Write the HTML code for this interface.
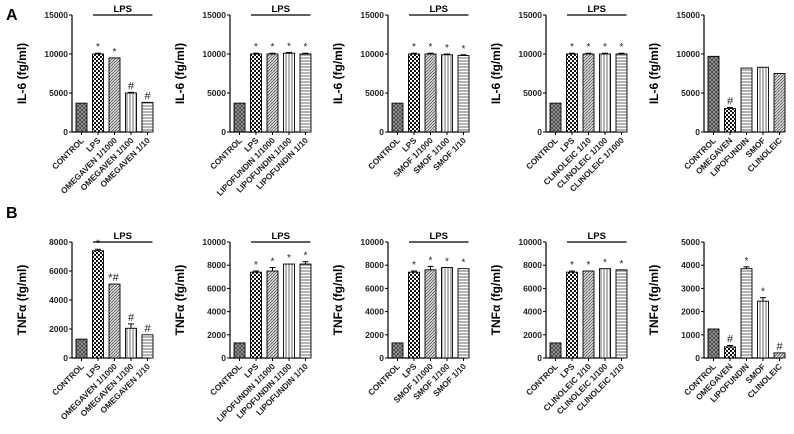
<!DOCTYPE html>
<html><head><meta charset="utf-8">
<style>
body{margin:0;background:#fff;}
svg{display:block;font-family:"Liberation Sans",Arial,sans-serif;}
</style></head>
<body>
<svg id="fig" width="794" height="434" viewBox="0 0 794 434" xmlns="http://www.w3.org/2000/svg">
<defs>
<pattern id="p-cross" width="4" height="4" patternUnits="userSpaceOnUse"><rect width="4" height="4" fill="#9a9a9a"/><path d="M0 0L4 4M4 0L0 4" stroke="#444" stroke-width="0.8"/></pattern>
<pattern id="p-checker" width="4" height="4" patternUnits="userSpaceOnUse"><rect width="4" height="4" fill="#fff"/><rect width="2" height="2" fill="#111"/><rect x="2" y="2" width="2" height="2" fill="#111"/></pattern>
<pattern id="p-diag" width="3" height="3" patternUnits="userSpaceOnUse"><rect width="3" height="3" fill="#ddd"/><path d="M0 3L3 0" stroke="#555" stroke-width="0.8"/></pattern>
<pattern id="p-vert" width="3" height="3" patternUnits="userSpaceOnUse"><rect width="3" height="3" fill="#fff"/><path d="M1 0V3" stroke="#444" stroke-width="0.8"/></pattern>
<pattern id="p-horiz" width="3" height="3" patternUnits="userSpaceOnUse"><rect width="3" height="3" fill="#fff"/><path d="M0 1H3" stroke="#444" stroke-width="0.8"/></pattern>
</defs>
<text x="6" y="20" font-size="16" font-weight="bold">A</text>
<text x="6" y="218" font-size="16" font-weight="bold">B</text>
</svg>
<script>
const catsA1 = ["CONTROL","LPS","OMEGAVEN 1/1000","OMEGAVEN 1/100","OMEGAVEN 1/10"];
const catsA2 = ["CONTROL","LPS","LIPOFUNDIN 1/1000","LIPOFUNDIN 1/100","LIPOFUNDIN 1/10"];
const catsA3 = ["CONTROL","LPS","SMOF 1/1000","SMOF 1/100","SMOF 1/10"];
const catsA4 = ["CONTROL","LPS","CLINOLEIC 1/10","CLINOLEIC 1/100","CLINOLEIC 1/1000"];
const catsA5 = ["CONTROL","OMEGAVEN","LIPOFUNDIN","SMOF","CLINOLEIC"];
const catsB4 = ["CONTROL","LPS","CLINOLEIC 1/10","CLINOLEIC 1/100","CLINOLEIC 1/10"];

const valsA1 = [3700,10000,9500,5000,3800];
const valsA2 = [3700,10000,10000,10100,10000];
const valsA3 = [3700,10000,10000,9900,9800];
const valsA4 = [3700,10000,10000,10000,10000];
const valsA5 = [9700,3000,8200,8300,7500];
const valsB1 = [1300,7400,5100,2050,1600];
const valsB2 = [1300,7400,7500,8100,8100];
const valsB3 = [1300,7400,7600,7800,7700];
const valsB4 = [1300,7400,7500,7700,7600];
const valsB5 = [1250,480,3850,2450,220];

const errA1 = [0,100,0,80,0];
const errA2 = [0,100,100,100,100];
const errA3 = [0,100,100,100,100];
const errA4 = [0,100,100,100,100];
const errA5 = [0,150,0,0,0];
const errB1 = [0,100,0,300,0];
const errB2 = [0,100,300,0,200];
const errB3 = [0,100,300,0,0];
const errB4 = [0,100,0,0,0];
const errB5 = [0,60,80,150,0];

const annA1 = ["","*","*","#","#"];
const annA2 = ["","*","*","*","*"];
const annA5 = ["","#","","",""];
const annB1 = ["","*","*#","#","#"];
const annB5 = ["","#","*","*","#"];

const ticksA = [0,5000,10000,15000];
const ticksB1 = [0,2000,4000,6000,8000];
const ticksB2 = [0,2000,4000,6000,8000,10000];
const ticksB5 = [0,1000,2000,3000,4000,5000];

const patLPS = ["p-cross","p-checker","p-diag","p-vert","p-horiz"];
const patFE = ["p-cross","p-checker","p-horiz","p-vert","p-diag"];

const panels = [
 {id:"a1",x:72,row:0,cats:catsA1,vals:valsA1,err:errA1,ann:annA1,ticks:ticksA,lps:true,pat:patLPS,title:"IL-6 (fg/ml)"},
 {id:"a2",x:230,row:0,cats:catsA2,vals:valsA2,err:errA2,ann:annA2,ticks:ticksA,lps:true,pat:patLPS,title:"IL-6 (fg/ml)"},
 {id:"a3",x:388,row:0,cats:catsA3,vals:valsA3,err:errA3,ann:annA2,ticks:ticksA,lps:true,pat:patLPS,title:"IL-6 (fg/ml)"},
 {id:"a4",x:546,row:0,cats:catsA4,vals:valsA4,err:errA4,ann:annA2,ticks:ticksA,lps:true,pat:patLPS,title:"IL-6 (fg/ml)"},
 {id:"a5",x:704,row:0,cats:catsA5,vals:valsA5,err:errA5,ann:annA5,ticks:ticksA,lps:false,pat:patFE,title:"IL-6 (fg/ml)"},
 {id:"b1",x:72,row:1,cats:catsA1,vals:valsB1,err:errB1,ann:annB1,ticks:ticksB1,lps:true,pat:patLPS,title:"TNFα (fg/ml)"},
 {id:"b2",x:230,row:1,cats:catsA2,vals:valsB2,err:errB2,ann:annA2,ticks:ticksB2,lps:true,pat:patLPS,title:"TNFα (fg/ml)"},
 {id:"b3",x:388,row:1,cats:catsA3,vals:valsB3,err:errB3,ann:annA2,ticks:ticksB2,lps:true,pat:patLPS,title:"TNFα (fg/ml)"},
 {id:"b4",x:546,row:1,cats:catsB4,vals:valsB4,err:errB4,ann:annA2,ticks:ticksB2,lps:true,pat:patLPS,title:"TNFα (fg/ml)"},
 {id:"b5",x:704,row:1,cats:catsA5,vals:valsB5,err:errB5,ann:annB5,ticks:ticksB5,lps:false,pat:patFE,title:"TNFα (fg/ml)"}
];
const rowGeom = [{top:15,zero:132},{top:242,zero:358}];
const NS="http://www.w3.org/2000/svg";
const svg=document.getElementById("fig");
function mk(tag,attrs,parent,text){const e=document.createElementNS(NS,tag);for(const k in attrs)e.setAttribute(k,attrs[k]);if(text!==undefined)e.textContent=text;parent.appendChild(e);return e;}

panels.forEach(p=>{
  const g=mk("g",{},svg);
  
  
  const rg=rowGeom[p.row];
  const maxV=p.ticks[p.ticks.length-1];
  const y=v=>rg.zero-(v/maxV)*(rg.zero-rg.top);
  const step=16.5, bw=11;
  const xc=i=>p.x+9.5+i*step;
  const ax=mk("line",{x1:p.x,y1:rg.top,x2:p.x,y2:rg.zero,stroke:"#000","stroke-width":1.2},g);
  
  
  const xa=mk("line",{x1:p.x,y1:rg.zero,x2:p.x+78,y2:rg.zero,stroke:"#000","stroke-width":1.2},g);
  
  
  p.ticks.forEach(t=>{
    mk("line",{x1:p.x-3,y1:y(t),x2:p.x,y2:y(t),stroke:"#000","stroke-width":1},g);
    const tl=mk("text",{x:p.x-4,y:y(t)+3,"font-size":8.5,"text-anchor":"end","font-weight":"bold",fill:"#222"},g,String(t));
    
    
  });
  const tt=mk("text",{x:0,y:0,"font-size":12,"font-weight":"bold","text-anchor":"middle",transform:`translate(${p.x-46},${(rg.top+rg.zero)/2}) rotate(-90)`},g,p.title);
  
  
  p.vals.forEach((v,i)=>{
    const b=mk("rect",{x:xc(i)-bw/2,y:y(v),width:bw,height:rg.zero-y(v),fill:`url(#${p.pat[i]})`,stroke:"#000","stroke-width":0.9},g);
    
    
    const e=p.err[i];
    if(e>0){
      mk("line",{x1:xc(i),y1:y(v),x2:xc(i),y2:y(v+e),stroke:"#000","stroke-width":1},g);
      mk("line",{x1:xc(i)-3,y1:y(v+e),x2:xc(i)+3,y2:y(v+e),stroke:"#000","stroke-width":1},g);
    }
    const a=p.ann[i];
    if(a){
      const at=mk("text",{x:xc(i)+(a==="*#"?-1:0),y:y(v+e)-3,"font-size":a.indexOf("#")>=0?11:10,"text-anchor":"middle",fill:"#222"},g,a);
      
      
    }
    mk("line",{x1:xc(i),y1:rg.zero,x2:xc(i),y2:rg.zero+3,stroke:"#000","stroke-width":1},g);
    const cl=mk("text",{x:0,y:0,"font-size":8.3,"font-weight":"bold","text-anchor":"end",fill:"#222",transform:`translate(${xc(i)+3},${rg.zero+9}) rotate(-45)`},g,p.cats[i]);
    
    
  });
  if(p.lps){
    const l=mk("line",{x1:xc(1)-5,y1:rg.top,x2:xc(4)+5,y2:rg.top,stroke:"#000","stroke-width":1.2},g);
    
    
    const lt=mk("text",{x:(xc(1)+xc(4))/2,y:rg.top-3,"font-size":9.5,"font-weight":"bold","text-anchor":"middle"},g,"LPS");
    
    
  }
});
</script>
</body></html>
